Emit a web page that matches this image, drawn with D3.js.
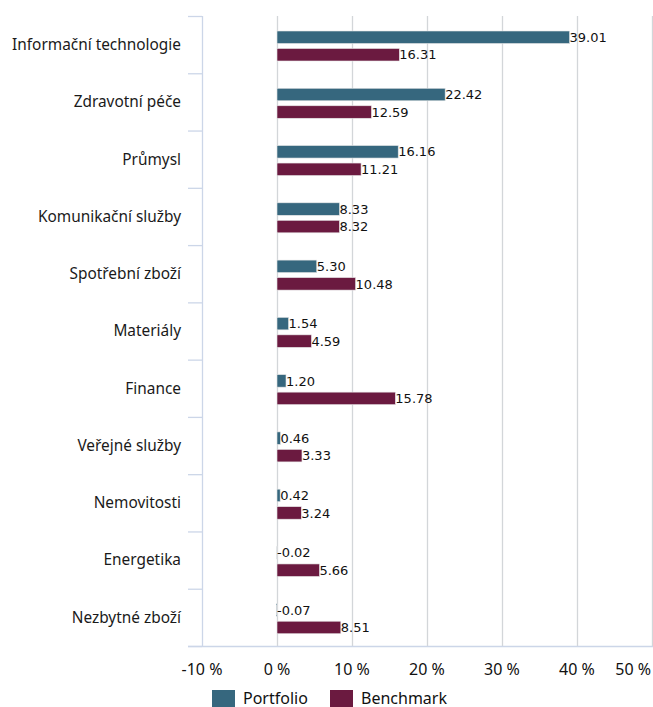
<!DOCTYPE html>
<html>
<head>
<meta charset="utf-8">
<script src="https://cdn.jsdelivr.net/npm/d3@7"></script>
<style>
  html, body { margin: 0; padding: 0; background: #fff; }
  svg { display: block; }
</style>
</head>
<body>
<svg id="chart" width="653" height="707"></svg>
<script>
// Sector weights: portfolio vs. benchmark (in %)
const categories = [
  "Informační technologie", "Zdravotní péče", "Průmysl", "Komunikační služby",
  "Spotřební zboží", "Materiály", "Finance", "Veřejné služby",
  "Nemovitosti", "Energetika", "Nezbytné zboží"
];
const seriesNames = ["Portfolio", "Benchmark"];
const portfolio = [39.01, 22.42, 16.16, 8.33, 5.30, 1.54, 1.20, 0.46, 0.42, -0.02, -0.07];
const benchmark = [16.31, 12.59, 11.21, 8.32, 10.48, 4.59, 15.78, 3.33, 3.24, 5.66, 8.51];
const xTicks = [-10, 0, 10, 20, 30, 40, 50];
const colors = ["#36677e", "#6b1a40"];

const svg = d3.select("#chart");
const plotLeft = 202, plotRight = 652, plotTop = 16, plotBottom = 646;

const x = d3.scaleLinear().domain([-10, 50]).range([plotLeft, plotRight]);
const y = d3.scaleBand().domain(categories).range([plotTop, plotBottom]).padding(0);
const sub = d3.scaleBand().domain(seriesNames).range([15, 45]).paddingInner(0.2857);

const rows = categories.map((c, i) => ({ cat: c, vals: [portfolio[i], benchmark[i]] }));

// vertical gridlines
svg.append("g")
  .selectAll("line")
  .data(xTicks.filter(t => t > -10))
  .join("line")
  .attr("x1", d => x(d) + 0.5).attr("x2", d => x(d) + 0.5)
  .attr("y1", plotTop).attr("y2", plotBottom)
  .attr("stroke", "#d3d6d9").attr("stroke-width", 1.3);

// category axis line and separators
const axisColor = "#ccd6e8";
svg.append("line")
  .attr("x1", plotLeft + 0.5).attr("x2", plotLeft + 0.5)
  .attr("y1", plotTop).attr("y2", plotBottom)
  .attr("stroke", axisColor).attr("stroke-width", 1.3);
const bounds = categories.map(c => y(c)).concat([plotBottom]);
svg.append("g").selectAll("line").data(bounds).join("line")
  .attr("x1", 188).attr("x2", plotLeft)
  .attr("y1", d => d + 0.5).attr("y2", d => d + 0.5)
  .attr("stroke", axisColor).attr("stroke-width", 1.3);
svg.append("line")
  .attr("x1", 188).attr("x2", 653)
  .attr("y1", plotBottom + 0.5).attr("y2", plotBottom + 0.5)
  .attr("stroke", axisColor).attr("stroke-width", 1.3);

// category labels
svg.append("g").selectAll("text").data(categories).join("text")
  .attr("x", 181)
  .attr("y", d => y(d) + y.bandwidth() / 2)
  .attr("dy", "0.35em")
  .attr("text-anchor", "end")
  .attr("font-family", "'Noto Sans', sans-serif")
  .attr("font-size", 15.4)
  .attr("fill", "#1a1a1a")
  .text(d => d);

// bars
const groups = svg.append("g").selectAll("g").data(rows).join("g")
  .attr("transform", d => `translate(0,${y(d.cat)})`);

groups.selectAll("rect")
  .data(d => d.vals.map((v, i) => ({ v, s: seriesNames[i], i })))
  .join("rect")
  .attr("x", d => x(Math.min(0, d.v)))
  .attr("y", d => sub(d.s))
  .attr("width", d => Math.abs(x(d.v) - x(0)))
  .attr("height", sub.bandwidth())
  .attr("fill", d => colors[d.i])
  .attr("stroke", "#e6e6e6")
  .attr("stroke-width", 0.6);

groups.selectAll("text")
  .data(d => d.vals.map((v, i) => ({ v, s: seriesNames[i] })))
  .join("text")
  .attr("x", d => x(Math.max(0, d.v)))
  .attr("y", d => sub(d.s) + sub.bandwidth() / 2)
  .attr("dy", "0.36em")
  .attr("font-family", "'DejaVu Sans', sans-serif")
  .attr("font-size", 13)
  .attr("fill", "#111")
  .text(d => d.v.toFixed(2));

// x tick labels (the last one is kept inside the frame)
const lastTick = xTicks[xTicks.length - 1];
svg.append("g").selectAll("text").data(xTicks).join("text")
  .attr("x", d => d === lastTick ? 651 : x(d))
  .attr("y", 675)
  .attr("text-anchor", d => d === lastTick ? "end" : "middle")
  .attr("font-family", "'Noto Sans', sans-serif")
  .attr("font-size", 16)
  .attr("fill", "#111")
  .text(d => d + " %");

// legend
const legendX = [212, 330];
const legend = svg.append("g").selectAll("g").data(seriesNames).join("g")
  .attr("transform", (d, i) => `translate(${legendX[i]},690)`);
legend.append("rect")
  .attr("width", 23).attr("height", 23)
  .attr("fill", (d, i) => colors[i]);
legend.append("text")
  .attr("x", 31).attr("y", 13.5)
  .attr("font-family", "'Noto Sans', sans-serif")
  .attr("font-size", 16)
  .attr("fill", "#111")
  .text(d => d);
</script>
</body>
</html>
